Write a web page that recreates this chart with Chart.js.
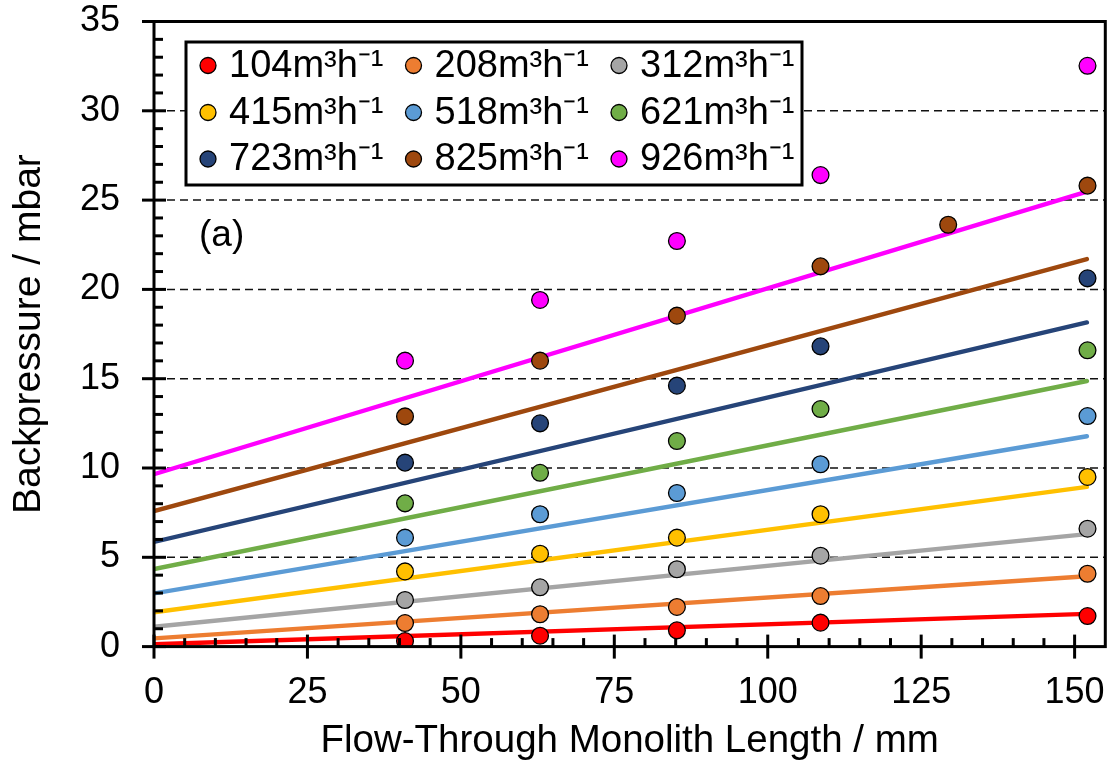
<!DOCTYPE html>
<html>
<head>
<meta charset="utf-8">
<script src="https://cdn.jsdelivr.net/npm/chart.js@4.4.0/dist/chart.umd.min.js"></script>
<style>
html,body{margin:0;padding:0;background:#fff;}
#wrap{width:1115px;height:764px;position:relative;}
</style>
</head>
<body>
<div id="wrap"><canvas id="c"></canvas></div>
<script>
// ---------- data ----------
const flowRates = ['104m³h⁻¹','208m³h⁻¹','312m³h⁻¹','415m³h⁻¹','518m³h⁻¹','621m³h⁻¹','723m³h⁻¹','825m³h⁻¹','926m³h⁻¹'];
const lengths    = [40.9, 62.9, 85.2, 108.6, 152.1];
const lengths825 = [40.9, 62.9, 85.2, 108.6, 129.4, 152.1];
const bp104 = [0.31, 0.61, 0.91, 1.34, 1.71];
const bp208 = [1.32, 1.81, 2.22, 2.83, 4.08];
const bp312 = [2.61, 3.32, 4.33, 5.09, 6.60];
const bp415 = [4.21, 5.20, 6.10, 7.41, 9.50];
const bp518 = [6.10, 7.41, 8.60, 10.21, 12.91];
const bp621 = [8.02, 9.73, 11.51, 13.30, 16.59];
const bp723 = [10.30, 12.50, 14.61, 16.81, 20.62];
const bp825 = [12.89, 16.01, 18.53, 21.29, 23.62, 25.81];
const bp926 = [16.01, 19.41, 22.71, 26.40, 32.52];
const fitX     = [0, 152];
const fitStart = [0.13, 0.46, 1.11, 1.92, 2.98, 4.34, 5.86, 7.59, 9.65];
const fitEnd   = [1.83, 3.94, 6.30, 8.94, 11.78, 14.87, 18.15, 21.70, 25.47];
const xTicks = [0, 25, 50, 75, 100, 125, 150];
const yTicks = [0, 5, 10, 15, 20, 25, 30, 35];
const xTitle = 'Flow-Through Monolith Length / mm';
const yTitle = 'Backpressure / mbar';
const panelLabel = '(a)';

// ---------- styles ----------
const colors = ['#FF0000','#ED7D31','#A5A5A5','#FFC000','#5B9BD5','#70AD47','#264478','#9E480E','#FF00FF'];
const FONT = '"Liberation Sans", Arial, sans-serif';

const seriesX = [lengths, lengths, lengths, lengths, lengths, lengths, lengths, lengths825, lengths];
const seriesY = [bp104, bp208, bp312, bp415, bp518, bp621, bp723, bp825, bp926];

const datasets = [];
seriesY.forEach((vals, i) => {
  datasets.push({
    type: 'scatter', label: flowRates[i],
    data: vals.map((v, j) => ({x: seriesX[i][j], y: v})),
    backgroundColor: colors[i], borderColor: '#000', borderWidth: 1.3,
    pointRadius: 8.4, pointHoverRadius: 8.4, order: 0, showLine: false
  });
});
seriesY.forEach((vals, i) => {
  datasets.push({
    type: 'scatter', label: flowRates[i] + ' fit', isFit: true,
    data: [{x: fitX[0], y: fitStart[i]}, {x: fitX[1], y: fitEnd[i]}],
    borderColor: colors[i], backgroundColor: colors[i], borderWidth: 4.4,
    borderCapStyle: 'round', pointRadius: 0, pointHoverRadius: 0, showLine: true, order: 1
  });
});

const framePlugin = {
  id: 'frame',
  beforeDatasetsDraw(chart) {
    const {ctx, chartArea: a, scales: {y}} = chart;
    ctx.save();
    ctx.strokeStyle = '#111'; ctx.lineWidth = 1.5; ctx.setLineDash([8, 5]);
    yTicks.forEach(v => {
      if (v <= y.min || v >= y.max) return;
      const py = y.getPixelForValue(v);
      ctx.beginPath(); ctx.moveTo(a.left, py); ctx.lineTo(a.right, py); ctx.stroke();
    });
    ctx.restore();
  },
  afterDatasetsDraw(chart) {
    const {ctx, chartArea: a, scales: {x, y}} = chart;
    ctx.save();
    ctx.strokeStyle = '#000'; ctx.lineWidth = 3; ctx.setLineDash([]);
    ctx.strokeRect(a.left, a.top, a.right - a.left, a.bottom - a.top);
    for (let v = y.min; v <= y.max + 1e-9; v += 1) {
      const py = y.getPixelForValue(v);
      const major = Math.abs(v % 5) < 1e-9;
      ctx.beginPath();
      if (major) { ctx.moveTo(a.left - 12, py); ctx.lineTo(a.left + 12, py); }
      else { ctx.moveTo(a.left, py); ctx.lineTo(a.left + 9, py); }
      ctx.stroke();
    }
    for (let v = 0; v <= 150 + 1e-9; v += 5) {
      const px = x.getPixelForValue(v);
      const major = Math.abs(v % 25) < 1e-9;
      ctx.beginPath();
      if (major) { ctx.moveTo(px, a.bottom - 12); ctx.lineTo(px, a.bottom + 12); }
      else { ctx.moveTo(px, a.bottom); ctx.lineTo(px, a.bottom - 8.5); }
      ctx.stroke();
    }
    ctx.restore();
  },
  afterDraw(chart) {
    const {ctx} = chart;
    ctx.save();
    ctx.fillStyle = '#000';
    ctx.font = '37px ' + FONT;
    ctx.textAlign = 'left'; ctx.textBaseline = 'alphabetic';
    ctx.fillText(panelLabel, 199, 246);
    const L = 186, T = 42, R = 802, B = 185;
    ctx.fillStyle = '#fff';
    ctx.fillRect(L, T, R - L, B - T);
    ctx.strokeStyle = '#000'; ctx.lineWidth = 3;
    ctx.strokeRect(L, T, R - L, B - T);
    const items = chart.data.datasets.filter(d => !d.isFit);
    const colX = [208, 413.5, 619];
    const rowY = [65.5, 112.5, 159];
    ctx.font = '38px ' + FONT;
    ctx.textBaseline = 'middle';
    items.forEach((d, i) => {
      const cx = colX[i % 3], cy = rowY[Math.floor(i / 3)];
      ctx.beginPath(); ctx.arc(cx, cy, 8, 0, Math.PI * 2);
      ctx.fillStyle = d.backgroundColor; ctx.fill();
      ctx.lineWidth = 1.3; ctx.strokeStyle = '#000'; ctx.stroke();
      ctx.fillStyle = '#000';
      ctx.fillText(d.label, cx + 21, cy + 1);
    });
    ctx.restore();
  }
};

new Chart(document.getElementById('c'), {
  type: 'scatter',
  data: {datasets},
  plugins: [framePlugin],
  options: {
    responsive: true, maintainAspectRatio: false, animation: false,
    devicePixelRatio: 1,
    layout: {padding: {top: 21.5, right: 4, left: 0, bottom: 0}},
    plugins: {legend: {display: false}, tooltip: {enabled: false}},
    events: [],
    scales: {
      x: {
        type: 'linear', min: 0, max: 155,
        afterBuildTicks: s => { s.ticks = xTicks.map(v => ({value: v})); },
        afterFit: s => { s.height = 117.4; s.paddingLeft = 0; s.paddingRight = 0; },
        ticks: {font: {family: FONT, size: 36}, color: '#000', padding: 25, maxRotation: 0, autoSkip: false},
        grid: {display: false, drawTicks: false},
        border: {display: false},
        title: {display: true, text: xTitle, color: '#000', font: {family: FONT, size: 38.5}, padding: {top: 0, bottom: 0}}
      },
      y: {
        type: 'linear', min: 0, max: 35,
        afterBuildTicks: s => { s.ticks = yTicks.map(v => ({value: v})); },
        afterFit: s => { s.width = 154; s.paddingTop = 0; s.paddingBottom = 0; },
        ticks: {font: {family: FONT, size: 36}, color: '#000', padding: 34, autoSkip: false},
        grid: {display: false, drawTicks: false},
        border: {display: false},
        title: {display: true, text: yTitle, color: '#000', font: {family: FONT, size: 39}, padding: {top: 6, bottom: 0}}
      }
    }
  }
});
</script>
</body>
</html>
